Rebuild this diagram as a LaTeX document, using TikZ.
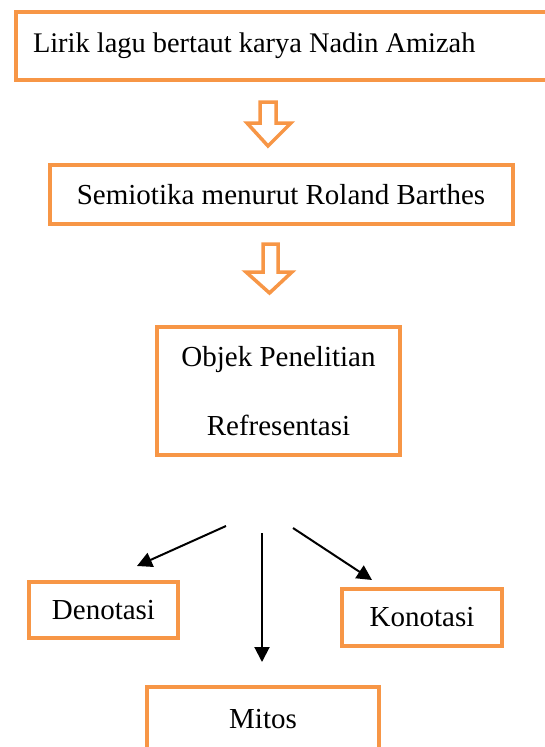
\documentclass[tikz,border=0pt]{standalone}
\usepackage{fontspec}
\setmainfont{Liberation Serif}
\usetikzlibrary{arrows.meta}
\definecolor{orng}{HTML}{F79646}
\tikzset{
  box/.style={draw=orng, line width=4pt, rectangle, inner sep=0pt, font=\fontsize{29}{34}\selectfont, fill=white},
  hollow/.style={draw=orng, line width=3.5pt, fill=white, line join=miter},
  conn/.style={draw=black, line width=2pt, -{Triangle[length=15pt,width=15pt]}}
}
\begin{document}
\begin{tikzpicture}[x=1pt,y=-1pt]
\useasboundingbox (0,0) rectangle (545,747);
% boxes
\node[box, anchor=west, minimum height=68pt, inner xsep=17pt, font=\fontsize{28.4}{33}\selectfont] (lirik) at (14,46) {\makebox[502pt][l]{Lirik lagu bertaut karya Nadin Amizah}};
\node[box, minimum width=463pt, minimum height=59pt] (semio) at (281,194.5) {Semiotika menurut Roland Barthes};
\node[box, minimum width=243pt, minimum height=128pt, align=center] (objek) at (278.5,391) {Objek Penelitian\\[35pt]Refresentasi};
\node[box, minimum width=149pt, minimum height=56pt] (deno) at (103.5,610) {Denotasi};
\node[box, minimum width=160pt, minimum height=57pt] (kono) at (422,617.5) {Konotasi};
\node[box, minimum width=232pt, minimum height=65pt] (mitos) at (263,719.5) {Mitos};
% hollow arrows
\draw[hollow] (260,102) -- (276,102) -- (276,123) -- (291,123) -- (268,146) -- (247,123) -- (260,123) -- cycle;
\draw[hollow] (263,244) -- (278,244) -- (278,272) -- (292,272) -- (269.5,293) -- (246,272) -- (263,272) -- cycle;
% connectors
\coordinate (s1) at (226,526);
\coordinate (s2) at (262,533);
\coordinate (s3) at (293,528);
\coordinate (t1) at (137,566);
\coordinate (t2) at (262,662);
\coordinate (t3) at (372,580);
\draw[conn] (s1) -- (t1);
\draw[conn] (s2) -- (t2);
\draw[conn] (s3) -- (t3);
\end{tikzpicture}
\end{document}
